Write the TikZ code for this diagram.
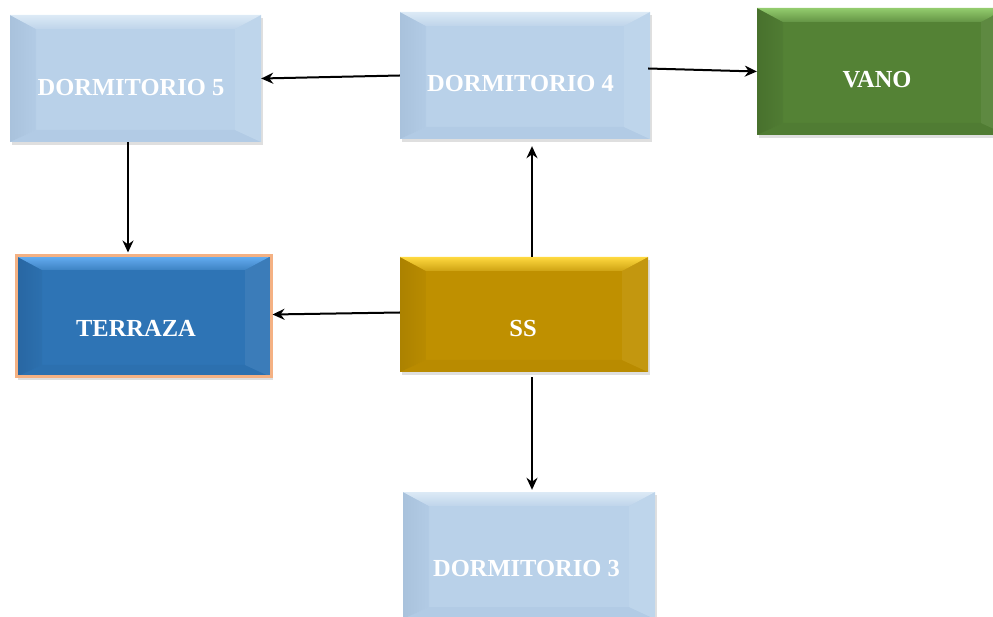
\documentclass[tikz,border=0pt]{standalone}
\usepackage{fontspec}
\setmainfont{Liberation Serif}
\newfontfamily\roomfont{Liberation Serif}[BoldFont={Liberation Serif Bold}]
\usetikzlibrary{arrows.meta,calc,shadows}

% room colours: base, light top band, dark left band, lower band
\definecolor{skyBase}{HTML}{B9D1E9}
\definecolor{skyTop}{HTML}{DCEAF6}
\definecolor{skySide}{HTML}{A9C2DC}
\definecolor{skyLow}{HTML}{B2CBE5}
\definecolor{leafBase}{HTML}{548235}
\definecolor{leafTop}{HTML}{93CC6E}
\definecolor{leafSide}{HTML}{48712D}
\definecolor{leafLow}{HTML}{507C33}
\definecolor{seaBase}{HTML}{2E74B5}
\definecolor{seaTop}{HTML}{66AEF2}
\definecolor{seaSide}{HTML}{2866A2}
\definecolor{seaLow}{HTML}{2C70AF}
\definecolor{goldBase}{HTML}{BF9000}
\definecolor{goldTop}{HTML}{FFD93F}
\definecolor{goldSide}{HTML}{AC8200}
\definecolor{goldLow}{HTML}{B98B00}
\definecolor{rim}{HTML}{F4B183}

\tikzset{
  % bevelled block: #1 top band, #2 left band, #3 lower band, #4 right band
  bevel/.style n args={4}{
    path picture={
      \coordinate (nw) at (path picture bounding box.north west);
      \coordinate (ne) at (path picture bounding box.north east);
      \coordinate (sw) at (path picture bounding box.south west);
      \coordinate (se) at (path picture bounding box.south east);
      \coordinate (inw) at ($(nw)+(26pt,-14pt)$);
      \coordinate (ine) at ($(ne)+(-26pt,-14pt)$);
      \coordinate (isw) at ($(sw)+(26pt,12pt)$);
      \coordinate (ise) at ($(se)+(-26pt,12pt)$);
      \fill[#3] (sw) -- (se) -- (ise) -- (isw) -- cycle;
      \fill[#4] (ne) -- (se) -- (ise) -- (ine) -- cycle;
      \shade[left color=#2, right color=#3] (nw) -- (sw) -- (isw) -- (inw) -- cycle;
      \shade[top color=#1, bottom color=#1!30!#3] (nw) -- (ne) -- (ine) -- (inw) -- cycle;
    }},
  room/.style={rectangle, inner sep=0pt, minimum width=250pt, minimum height=127pt,
    drop shadow={opacity=0.25, shadow xshift=1.5pt, shadow yshift=-3pt}},
  sky/.style={room, fill=skyBase, bevel={skyTop}{skySide}{skyLow}{skyBase!92!white}},
  leaf/.style={room, fill=leafBase, bevel={leafTop}{leafSide}{leafLow}{leafBase!94!white}},
  sea/.style={room, fill=seaBase, bevel={seaTop}{seaSide}{seaLow}{seaBase!94!white},
    draw=rim, line width=3pt},
  gold/.style={room, fill=goldBase, bevel={goldTop}{goldSide}{goldLow}{goldBase!94!white}},
  tag/.style={text=white, font=\roomfont\bfseries\fontsize{24.5}{27}\selectfont, inner sep=0pt},
  link/.style={line width=2pt, -{Stealth[length=12pt,width=11pt]}},
}

\begin{document}
\begin{tikzpicture}[x=1pt, y=-1pt]
  \useasboundingbox (0,0) rectangle (993,617);
  \clip (0,0) rectangle (993,617);

  % rooms
  \node[sky]  (d5) at (135.5,78.5) [minimum width=251pt] {};
  \node[sky]  (d4) at (525,75.5) {};
  \node[leaf] (vano) at (882,71.5) {};
  \node[sea]  (tz) at (143.5,316.5) [minimum width=255pt, minimum height=121pt] {};
  \node[gold] (ss) at (524,314.5) [minimum width=248pt, minimum height=115pt] {};
  \node[sky]  (d3) at (529,555.5) [minimum width=252pt] {};

  % labels
  \node[tag] (d5t) at (131,88) {DORMITORIO 5};
  \node[tag] (d4t) at (520.5,84) {DORMITORIO 4};
  \node[tag] (vanot) at (877,79.5) {VANO};
  \node[tag] (tzt) at (136,328) {TERRAZA};
  \node[tag] (sst) at (523,329) {SS};
  \node[tag] (d3t) at (526.5,569) {DORMITORIO 3};

  % connections
  \draw[link] (d4.west) -- (d5.east);
  \draw[link] ($(d4.east)+(-2pt,7pt)$) -- (vano.west);
  \draw[link] (d5.south -| 128,0) -- ($(tz.north -| 128,0)+(0,2pt)$);
  \draw[link] (ss.north -| 532,0) -- ($(d4.south -| 532,0)+(0,-7pt)$);
  \draw[link] ($(ss.west)+(0,2pt)$) -- ($(tz.east)+(0,2pt)$);
  \draw[link] ($(ss.south -| 532,0)+(0,-5pt)$) -- ($(d3.north -| 532,0)+(0,2pt)$);
\end{tikzpicture}
\end{document}
